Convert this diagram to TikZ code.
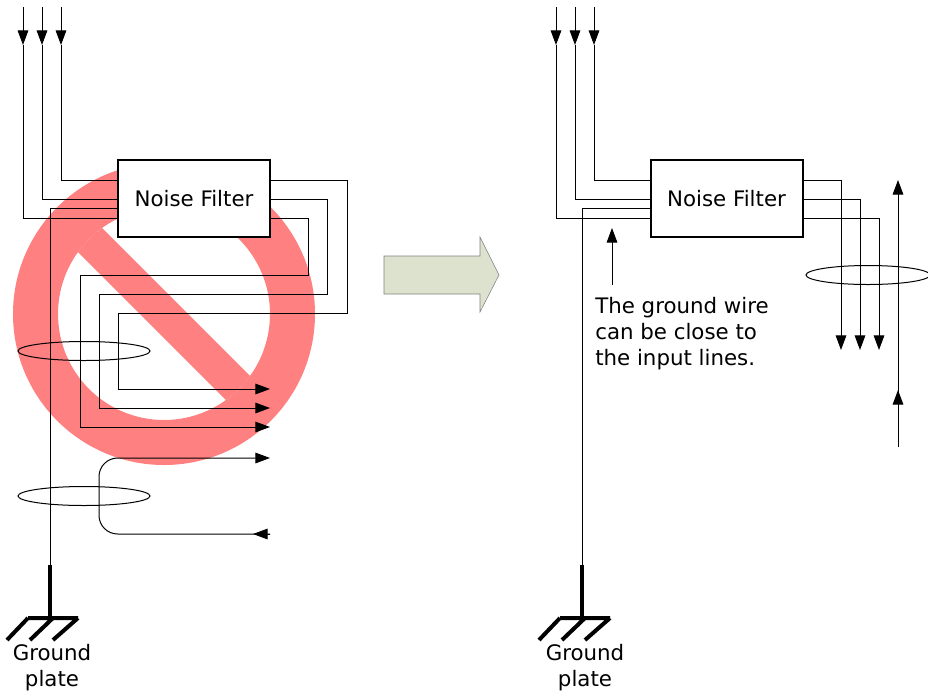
\documentclass[tikz,border=0pt]{standalone}
\usepackage{fontspec}
\setmainfont{DejaVu Sans}
\usetikzlibrary{arrows.meta,calc}
\definecolor{stopred}{RGB}{255,128,128}
\definecolor{arrowfill}{RGB}{221,226,206}
\tikzset{
  wire/.style={line width=0.75pt},
  arr/.style={-{Triangle[length=11pt,width=8pt]}},
  filterbox/.style={draw,line width=1.5pt,fill=white,minimum width=114pt,
    minimum height=57.75pt,inner sep=0pt,font=\fontsize{16}{19.5}\selectfont},
  txt/.style={font=\fontsize{16}{19.5}\selectfont,inner sep=0pt,align=center},
  earth/.style={line width=3pt}
}
\begin{document}
\begin{tikzpicture}[x=0.75pt,y=-0.75pt]
  \useasboundingbox (0,0) rectangle (928,693);
  % prohibition sign
  \fill[stopred,even odd rule] (164,314) circle[radius=151]
    (164,314) circle[radius=106];
  \begin{scope}
    \clip (164,314) circle[radius=106];
    \draw[stopred,line width=25.5pt] (44,194) -- (284,434);
  \end{scope}
  % filters
  \node[filterbox] (filterL) at (194,198.5) {Noise Filter};
  \node[filterbox] (filterR) at (726.5,198.5) {Noise Filter};
  % input lines
  \foreach \x/\y in {23/218,42/199,61/180} {
    \draw[wire,arr] (\x,7) -- (\x,45);
    \draw[wire] (\x,45) -- (\x,\y) -- (filterL.west |- 0,\y);
  }
  \foreach \x/\y in {556/218,575/199,594/180} {
    \draw[wire,arr] (\x,7) -- (\x,45);
    \draw[wire] (\x,45) -- (\x,\y) -- (filterR.west |- 0,\y);
  }
  % output lines, left
  \foreach \y/\a/\b/\c/\d in {180/347/313/118/389,199/327/294/99/408,218/308/275/80/427}
    \draw[wire,arr] (filterL.east |- 0,\y) -- (\a,\y) -- (\a,\b) -- (\c,\b)
      -- (\c,\d) -- (270,\d);
  \draw[wire] (84,351) ellipse[x radius=66,y radius=9.5];
  \draw[wire,arr,rounded corners=14pt] (270,534) -- (99,534) -- (99,458)
    -- (270,458);
  \draw[wire,arr] (270,534) -- (253,534);
  \draw[wire] (84,496) ellipse[x radius=66,y radius=9.5];
  % output lines, right
  \foreach \y/\x in {180/841,199/860,218/879}
    \draw[wire,arr] (filterR.east |- 0,\y) -- (\x,\y) -- (\x,350);
  \draw[wire] (868,275) ellipse[x radius=62,y radius=9.5];
  \draw[wire,arr] (898,447) -- (898,180);
  \draw[wire,arr] (898,447) -- (898,390);
  % ground wires
  \draw[wire] (filterL.west |- 0,208) -- (50,208) -- (50,565);
  \draw[earth] (50,565) -- (50,618);
  \draw[earth] (28,618) -- (78,618) (28,618) -- (7,640) (53,618) -- (30,640)
    (78,618) -- (53,640);
  \draw[wire] (filterR.west |- 0,208) -- (582,208) -- (582,565);
  \draw[earth] (582,565) -- (582,618);
  \draw[earth] (560,618) -- (610,618) (560,618) -- (539,640) (585,618) -- (562,640)
    (610,618) -- (585,640);
  \node[txt,anchor=north] (plateL) at (52,644) {Ground\\plate};
  \node[txt,anchor=north] (plateR) at (585,644) {Ground\\plate};
  % big arrow
  \draw[gray,fill=arrowfill] (384,256) -- (480,256) -- (480,237) -- (499,275)
    -- (480,312) -- (480,294) -- (384,294) -- cycle;
  % note
  \node[txt,align=left,anchor=north west] (note) at (595,297)
    {The ground wire\\can be close to\\the input lines.};
  \coordinate (gndR) at (612,228);
  \draw[wire,arr] ([yshift=9pt]note.north -| gndR) -- (gndR);
\end{tikzpicture}
\end{document}
